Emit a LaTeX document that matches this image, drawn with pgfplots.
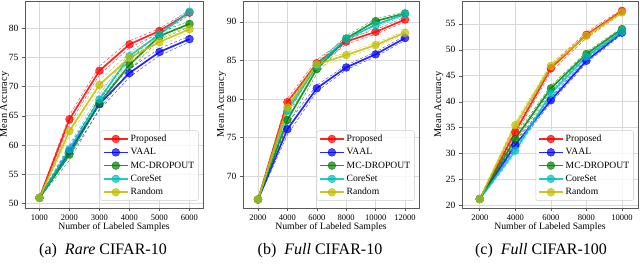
\documentclass[border=0pt]{standalone}
\usepackage{pgfplots}
\pgfplotsset{compat=1.18}
\usepackage{pgfplotstable}
\usepackage{fontspec}
\setmainfont{Liberation Serif}

\definecolor{cR}{rgb}{1,0,0}
\definecolor{cB}{rgb}{0,0,1}
\definecolor{cG}{rgb}{0,0.5,0}
\definecolor{cC}{rgb}{0,0.75,0.75}
\definecolor{cY}{rgb}{0.75,0.75,0}

% Panel (a): Rare CIFAR-10
\pgfplotstableread{
x    Pm   Pl   Ph   Vm   Vl   Vh   Mm   Ml   Mh   Cm   Cl   Ch   Rm   Rl   Rh
1000 51.0 50.9 51.1 51.0 50.9 51.1 51.0 50.9 51.1 51.0 50.9 51.1 51.0 50.9 51.1
2000 64.4 63.6 65.1 59.0 58.1 59.8 58.4 57.4 59.3 59.3 58.5 60.1 62.4 61.6 63.2
3000 72.7 72.0 73.5 67.0 66.0 67.9 67.2 66.2 68.2 67.8 67.0 68.6 70.3 69.4 71.1
4000 77.2 76.6 77.8 72.3 71.6 73.0 73.7 72.8 74.6 75.2 74.6 75.8 74.9 74.1 75.7
5000 79.5 79.1 79.9 75.9 75.3 76.5 78.6 78.0 79.2 78.9 78.4 79.4 77.6 76.9 78.3
6000 82.6 82.2 83.0 78.1 77.6 78.6 80.7 80.2 81.2 82.8 82.4 83.2 79.8 79.3 80.3
}\tabA

% Panel (b): Full CIFAR-10
\pgfplotstableread{
x     Pm    Pl   Ph   Vm   Vl   Vh   Mm    Ml   Mh   Cm   Cl   Ch   Rm   Rl   Rh
2000  67.0  66.9 67.1 67.0 66.9 67.1 67.0  66.9 67.1 67.0 66.9 67.1 67.0 66.9 67.1
4000  79.6  79.0 80.1 76.1 75.4 76.8 77.3  76.6 78.0 78.5 77.8 79.1 78.9 78.2 79.5
6000  84.65 84.2 85.1 81.4 81.0 81.8 83.9  83.3 84.5 84.3 83.8 84.8 84.5 84.1 84.9
8000  87.45 87.1 87.8 84.1 83.8 84.4 87.85 87.5 88.2 87.8 87.5 88.1 85.7 85.4 86.0
10000 88.7  88.4 89.0 85.8 85.5 86.1 90.1  89.8 90.4 89.6 89.3 89.9 87.0 86.7 87.3
12000 90.3  90.0 90.6 87.9 87.6 88.2 91.1  90.9 91.3 91.0 90.8 91.2 88.6 88.4 88.8
}\tabB

% Panel (c): Full CIFAR-100
\pgfplotstableread{
x     Pm    Pl   Ph   Vm   Vl   Vh   Mm   Ml   Mh   Cm   Cl   Ch   Rm   Rl   Rh
2000  21.3  21.2 21.4 21.3 21.2 21.4 21.3 21.2 21.4 21.3 21.2 21.4 21.3 21.2 21.4
4000  34.2  33.5 34.8 31.7 31.1 32.3 32.9 32.3 33.5 30.6 30.0 31.2 35.5 34.9 36.1
6000  46.45 45.8 47.0 40.3 39.8 40.8 42.6 42.1 43.1 41.6 41.1 42.1 46.9 46.4 47.4
8000  52.9  52.3 53.4 47.9 47.5 48.3 49.2 48.8 49.6 48.7 48.3 49.1 52.7 52.2 53.2
10000 57.5  57.2 57.8 53.3 53.0 53.6 54.0 53.7 54.3 53.5 53.2 53.8 57.2 56.9 57.5
}\tabC

\newcommand{\ser}[4]{%
  \addplot[#3, densely dashed, line width=0.45pt, opacity=0.75, forget plot] table[x=x,y=#2l]{#1};
  \addplot[#3, densely dashed, line width=0.45pt, opacity=0.75, forget plot] table[x=x,y=#2h]{#1};
  \addplot[#3, line width=1.7pt, opacity=0.85, mark=*, mark size=3.9pt,
     mark options={solid, fill=#3, fill opacity=0.7, draw opacity=0.8, line width=0.5pt}] table[x=x,y=#2m]{#1};
  \addlegendentry{#4}
}

\pgfplotsset{
  myax/.style={
    scale only axis, height=207pt,
    axis line style={black!65, line width=0.8pt},
    grid=major, grid style={black!15, line width=0.7pt},
    tick align=outside, tick pos=left, major tick length=3pt,
    tick style={black!65, line width=0.6pt},
    /pgf/number format/assume math mode=true,
    /pgf/number format/1000 sep={},
    scaled x ticks=false,
    xticklabel style={font=\fontsize{8.5}{9}\selectfont},
    yticklabel style={font=\fontsize{9.5}{10}\selectfont},
    xlabel={Number of Labeled Samples}, ylabel={Mean Accuracy},
    xlabel style={font=\fontsize{9.7}{11}\selectfont, at={(axis description cs:0.5,-0.09)}, anchor=center},
    ylabel style={font=\fontsize{10.3}{11}\selectfont, anchor=center},
    legend style={at={(0.975,0.035)}, anchor=south east, draw=black!20, rounded corners=2pt,
      fill=white, fill opacity=0.8, text opacity=1, draw opacity=1,
      font=\fontsize{9.6}{11}\selectfont, inner sep=2.2pt, row sep=1.4pt},
    legend cell align=left,
    legend image code/.code={\draw[##1, mark repeat=2, mark phase=2] plot coordinates {(0pt,0pt) (12pt,0pt) (24pt,0pt)};},
  }
}

\begin{document}
\begin{tikzpicture}
\useasboundingbox (0,0) rectangle (640pt,263pt);

\begin{axis}[myax, at={(25pt,55pt)}, anchor=south west, width=178pt,
  xmin=520, xmax=6450, ymin=49.27, ymax=84.6,
  xtick={1000,2000,3000,4000,5000,6000}, ytick={50,55,60,65,70,75,80},
  ylabel style={at={(axis description cs:-0.115,0.5)}}]
\ser{\tabA}{P}{cR}{Proposed}
\ser{\tabA}{V}{cB}{VAAL}
\ser{\tabA}{M}{cG}{MC-DROPOUT}
\ser{\tabA}{C}{cC}{CoreSet}
\ser{\tabA}{R}{cY}{Random}
\end{axis}

\begin{axis}[myax, at={(243pt,55pt)}, anchor=south west, width=176pt,
  xmin=980, xmax=12950, ymin=65.9, ymax=92.7,
  xtick={2000,4000,6000,8000,10000,12000}, ytick={70,75,80,85,90},
  ylabel style={at={(axis description cs:-0.121,0.5)}}]
\ser{\tabB}{P}{cR}{Proposed}
\ser{\tabB}{V}{cB}{VAAL}
\ser{\tabB}{M}{cG}{MC-DROPOUT}
\ser{\tabB}{C}{cC}{CoreSet}
\ser{\tabB}{R}{cY}{Random}
\end{axis}

\begin{axis}[myax, at={(462pt,55pt)}, anchor=south west, width=176pt,
  xmin=1000, xmax=10900, ymin=19.56, ymax=59.4,
  xtick={2000,4000,6000,8000,10000}, ytick={20,25,30,35,40,45,50,55},
  ylabel style={at={(axis description cs:-0.131,0.5)}}]
\ser{\tabC}{P}{cR}{Proposed}
\ser{\tabC}{V}{cB}{VAAL}
\ser{\tabC}{M}{cG}{MC-DROPOUT}
\ser{\tabC}{C}{cC}{CoreSet}
\ser{\tabC}{R}{cY}{Random}
\end{axis}

\node[font=\fontsize{16}{18}\selectfont] at (103pt,12pt) {(a)\hspace{0.5em}\textit{Rare} CIFAR-10};
\node[font=\fontsize{16}{18}\selectfont] at (320pt,12pt) {(b)\hspace{0.5em}\textit{Full} CIFAR-10};
\node[font=\fontsize{16}{18}\selectfont] at (541pt,12pt) {(c)\hspace{0.5em}\textit{Full} CIFAR-100};
\end{tikzpicture}
\end{document}
